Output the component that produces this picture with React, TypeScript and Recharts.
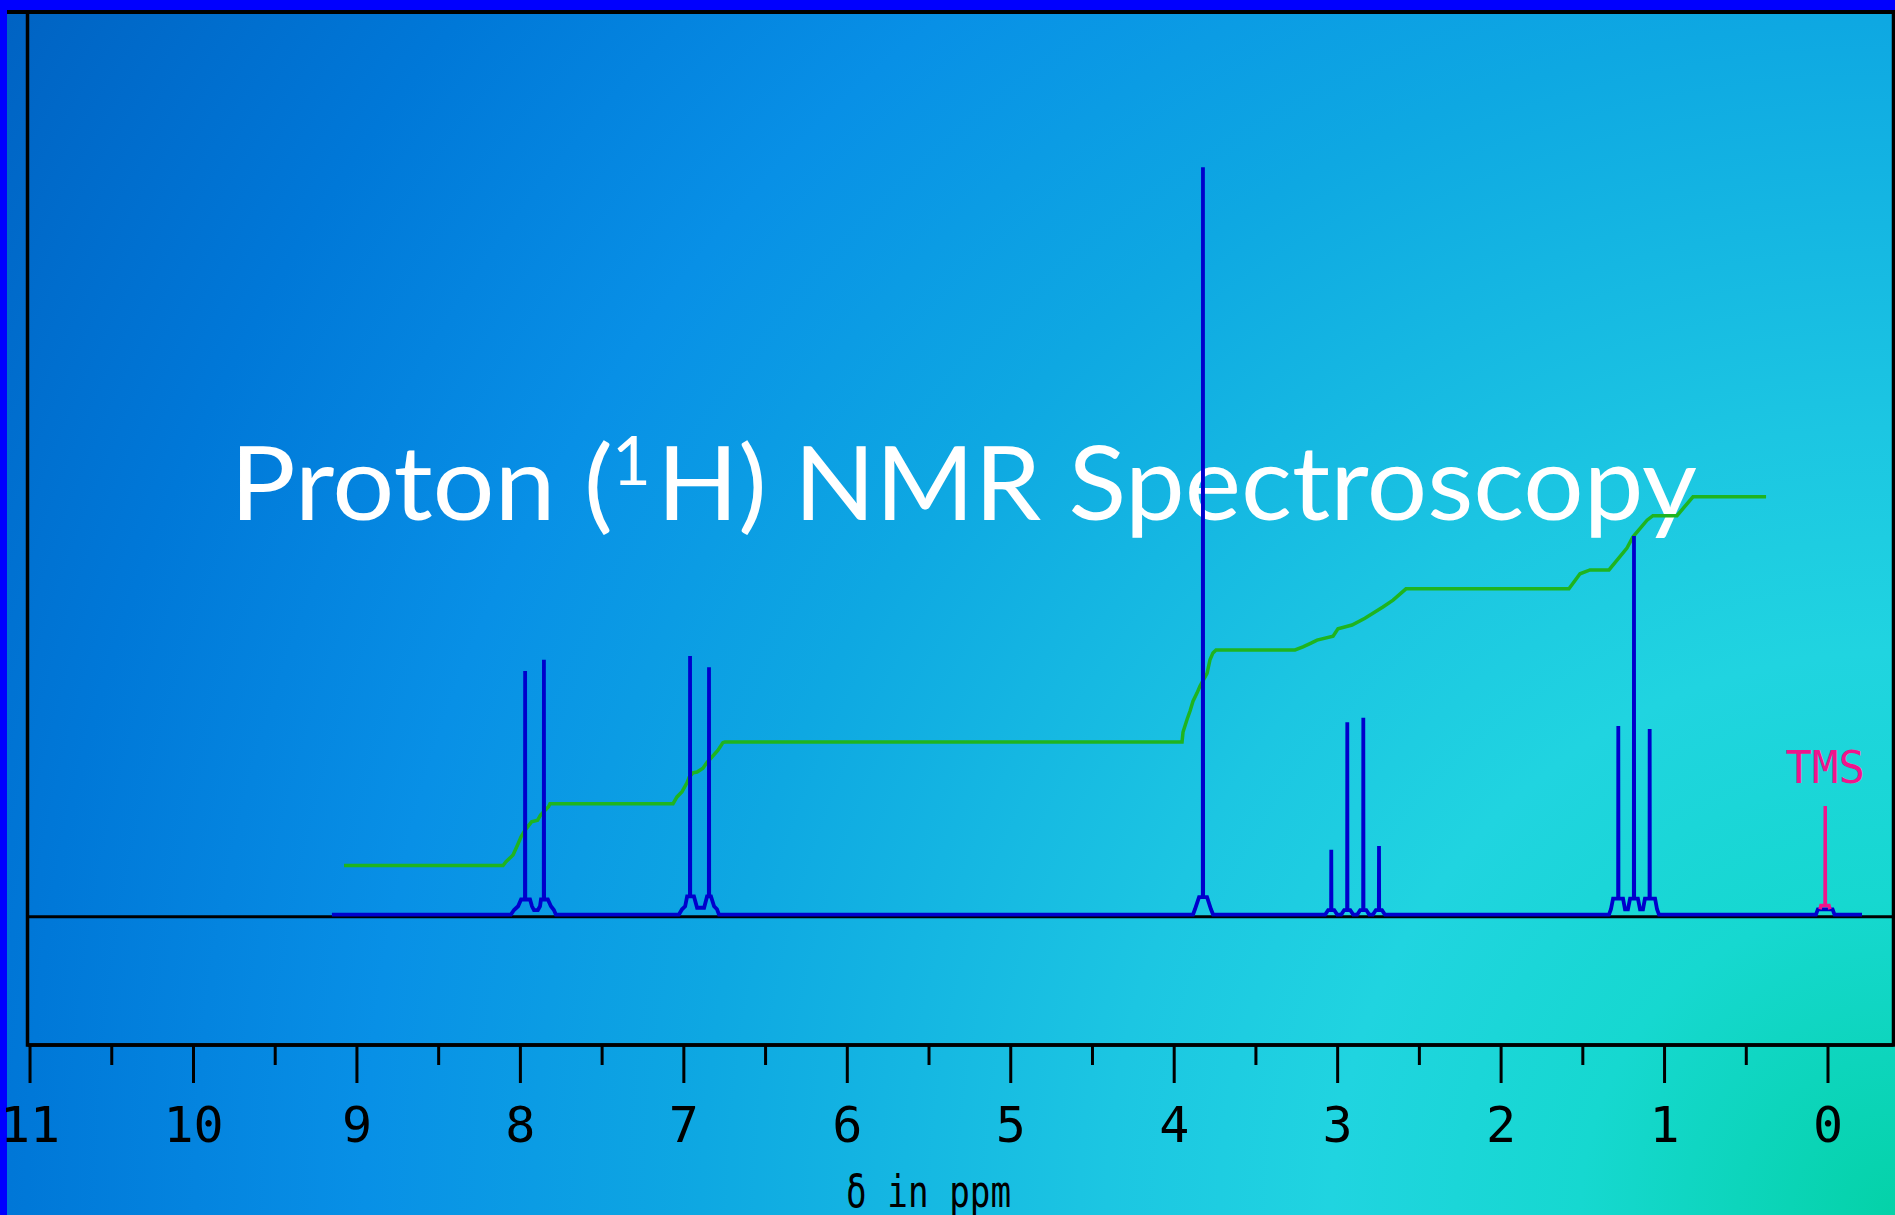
import {
  Line,
  LineChart,
  ReferenceArea,
  ReferenceDot,
  ReferenceLine,
  XAxis,
  YAxis,
} from "recharts";

// chemical shift (ppm) vs intensity
const spectrum: [number, number][] = [
  [9.153, 0.3],
  // doublet ~7.9
  [8.058, 0.3], [8.039, 0.9], [8.014, 1.4], [7.996, 2.3], [7.972, 2.3], [7.971, 32.6], [7.97, 2.3],
  [7.941, 2.3], [7.929, 1.4], [7.917, 0.9], [7.893, 0.9], [7.88, 1.4], [7.874, 2.3], [7.857, 2.3],
  [7.856, 34.1], [7.855, 2.3], [7.832, 2.3], [7.813, 1.4], [7.795, 0.9], [7.783, 0.3],
  // doublet ~6.9
  [7.03, 0.3], [7.011, 1.0], [6.992, 1.4], [6.98, 2.7], [6.963, 2.7], [6.962, 34.6], [6.961, 2.7],
  [6.938, 2.7], [6.919, 1.2], [6.876, 1.2], [6.858, 2.7], [6.847, 2.7], [6.846, 33.1], [6.845, 2.7],
  [6.834, 2.7], [6.815, 1.4], [6.797, 1.0], [6.785, 0.3],
  // singlet 3.82
  [3.885, 0.3], [3.873, 1.0], [3.848, 2.6], [3.825, 2.6], [3.824, 99.4], [3.823, 2.6], [3.799, 2.6],
  [3.775, 1.0], [3.762, 0.3],
  // quartet ~2.9
  [3.076, 0.3], [3.058, 0.9], [3.04, 0.9], [3.039, 8.9], [3.038, 0.9], [3.021, 0.9], [3.003, 0.3],
  [2.978, 0.3], [2.96, 0.9], [2.942, 0.9], [2.941, 25.8], [2.94, 0.9], [2.923, 0.9], [2.905, 0.3],
  [2.88, 0.3], [2.862, 0.9], [2.844, 0.9], [2.843, 26.4], [2.842, 0.9], [2.825, 0.9], [2.807, 0.3],
  [2.784, 0.3], [2.766, 0.9], [2.748, 0.9], [2.747, 9.4], [2.746, 0.9], [2.729, 0.9], [2.711, 0.3],
  // triplet ~1.2
  [1.34, 0.3], [1.328, 1.0], [1.315, 2.4], [1.284, 2.4], [1.283, 25.3], [1.282, 2.4], [1.254, 2.4],
  [1.242, 1.0], [1.224, 1.0], [1.211, 2.4], [1.188, 2.4], [1.187, 50.5], [1.186, 2.4], [1.163, 2.4],
  [1.15, 1.0], [1.132, 1.0], [1.12, 2.4], [1.092, 2.4], [1.091, 24.9], [1.09, 2.4], [1.058, 2.4],
  [1.046, 1.0], [1.034, 0.3],
  // under TMS
  [0.074, 0.3], [0.062, 1.0], [-0.028, 1.0], [-0.04, 0.3],
  [-0.208, 0.3],
];

const tms: [number, number][] = [
  [0.049, 1.0], [0.043, 1.5], [0.018, 1.5], [0.017, 14.7], [0.016, 1.5], [-0.006, 1.5], [-0.012, 1.0],
];

const integral: [number, number][] = [
  [9.079, 6.8], [8.106, 6.8], [8.088, 7.3], [8.045, 8.2], [8.014, 9.7], [7.996, 10.6], [7.971, 11.5],
  [7.932, 12.6], [7.895, 12.8], [7.877, 13.5], [7.828, 14.6], [7.819, 15.0], [7.066, 15.0],
  [7.042, 15.9], [7.011, 16.6], [6.98, 17.8], [6.968, 18.5], [6.944, 19.1], [6.919, 19.2],
  [6.883, 19.7], [6.858, 20.5], [6.828, 21.2], [6.791, 22.1], [6.761, 23.1], [6.748, 23.2],
  [3.952, 23.2], [3.946, 24.5], [3.921, 26.2], [3.903, 27.3], [3.885, 28.6], [3.86, 29.7],
  [3.842, 30.6], [3.799, 32.3], [3.781, 34.1], [3.763, 35.0], [3.744, 35.4], [3.261, 35.4],
  [3.212, 35.8], [3.163, 36.3], [3.126, 36.7], [3.028, 37.2], [2.998, 38.2], [2.912, 38.7],
  [2.833, 39.6], [2.723, 41.1], [2.661, 42.0], [2.582, 43.5], [1.585, 43.5], [1.517, 45.5],
  [1.456, 46.0], [1.34, 46.0], [1.23, 48.9], [1.193, 50.4], [1.107, 52.6], [1.071, 53.2],
  [0.924, 53.2], [0.826, 55.7], [0.379, 55.7],
];

const majorTicks = [0, 1, 2, 3, 4, 5, 6, 7, 8, 9, 10, 11];
const minorTicks = [0.5, 1.5, 2.5, 3.5, 4.5, 5.5, 6.5, 7.5, 8.5, 9.5, 10.5];

const xDomain: [number, number] = [-0.4007, 11.0155];
const yDomain: [number, number] = [-17, 120];

const toRows = (pts: [number, number][]) => pts.map(([ppm, v]) => ({ ppm, v }));

const mono = "'DejaVu Sans Mono', monospace";

function PpmTick(props: any) {
  const { x, y, payload } = props;
  const major = majorTicks.includes(payload.value);
  return (
    <g>
      <line x1={x} x2={x} y1={y + 1} y2={y + (major ? 38 : 20)} stroke="#000" strokeWidth={3} />
      {major && (
        <text x={x} y={y + 97} textAnchor="middle" fontFamily={mono} fontSize={50} fill="#000">
          {payload.value}
        </text>
      )}
    </g>
  );
}

export default function App() {
  return (
    <div
      style={{
        position: "absolute",
        left: 0,
        top: 0,
        width: 1895,
        height: 1215,
        overflow: "hidden",
        background:
          "radial-gradient(circle 2251px at 100% 100%, #04d2a8 0%, #16d8d0 14%, #20d4e0 25%, #1cc6e2 35%, #0ea8e2 53%, #0890e6 68%, #0078d8 83%, #0062c2 100%)",
      }}
    >
      <div style={{ position: "absolute", left: 0, top: 0, width: 1895, height: 10, background: "#0000ff" }} />
      <div style={{ position: "absolute", left: 0, top: 0, width: 7, height: 1215, background: "#0000ff" }} />
      <div style={{ position: "absolute", left: 7, top: 10, width: 1888, height: 4, background: "#000" }} />

      <svg width={1895} height={1215} style={{ position: "absolute", left: 0, top: 0 }}>
        <text x={230} y={520} fontFamily="Lato, 'Open Sans', sans-serif" fontSize={102} fill="#fff" textLength={383} lengthAdjust="spacingAndGlyphs">
          Proton (
        </text>
        <text x={612} y={485} fontFamily="Lato, 'Open Sans', sans-serif" fontSize={67} fill="#fff">
          1
        </text>
        <text x={657} y={520} fontFamily="Lato, 'Open Sans', sans-serif" fontSize={102} fill="#fff" textLength={1040} lengthAdjust="spacingAndGlyphs">
          H) NMR Spectroscopy
        </text>
      </svg>

      <div style={{ position: "absolute", left: 0, top: 0 }}>
        <LineChart width={1895} height={1215} margin={{ top: 12, right: 1.5, left: 27.5, bottom: 0 }}>
          <XAxis
            dataKey="ppm"
            type="number"
            domain={xDomain}
            allowDataOverflow
            reversed
            ticks={[...majorTicks, ...minorTicks]}
            interval={0}
            height={170}
            tickSize={0}
            tickMargin={0}
            tickLine={false}
            axisLine={{ stroke: "#000", strokeWidth: 3.5 }}
            tick={PpmTick}
            label={({ viewBox }: any) => (
              <text
                x={viewBox.x + viewBox.width / 2 - 32}
                y={viewBox.y + 162}
                textAnchor="middle"
                fontFamily={mono}
                fontSize={44}
                fill="#000"
                textLength={165}
                lengthAdjust="spacingAndGlyphs"
              >
                δ in ppm
              </text>
            )}
          />
          <YAxis hide type="number" domain={yDomain} allowDataOverflow />
          <ReferenceArea
            x1={xDomain[0]}
            x2={xDomain[1]}
            y1={yDomain[0]}
            y2={yDomain[1]}
            fill="none"
            stroke="#000"
            strokeWidth={3.5}
          />
          <ReferenceLine y={0} stroke="#000" strokeWidth={3} />
          <Line
            data={toRows(integral)}
            dataKey="v"
            type="linear"
            stroke="#1fb41f"
            strokeWidth={3.5}
            dot={false}
            isAnimationActive={false}
          />
          <Line
            data={toRows(spectrum)}
            dataKey="v"
            type="linear"
            stroke="#0000cc"
            strokeWidth={3.8}
            dot={false}
            isAnimationActive={false}
          />
          <Line
            data={toRows(tms)}
            dataKey="v"
            type="linear"
            stroke="#f0148c"
            strokeWidth={3.5}
            dot={false}
            isAnimationActive={false}
          />
          <ReferenceDot
            x={0.017}
            y={14.7}
            r={1}
            fill="none"
            stroke="none"
            label={({ viewBox }: any) => (
              <text
                x={viewBox.x + viewBox.width / 2}
                y={viewBox.y - 22}
                textAnchor="middle"
                fontFamily={mono}
                fontSize={44}
                fill="#f0148c"
              >
                TMS
              </text>
            )}
          />
        </LineChart>
      </div>
    </div>
  );
}
